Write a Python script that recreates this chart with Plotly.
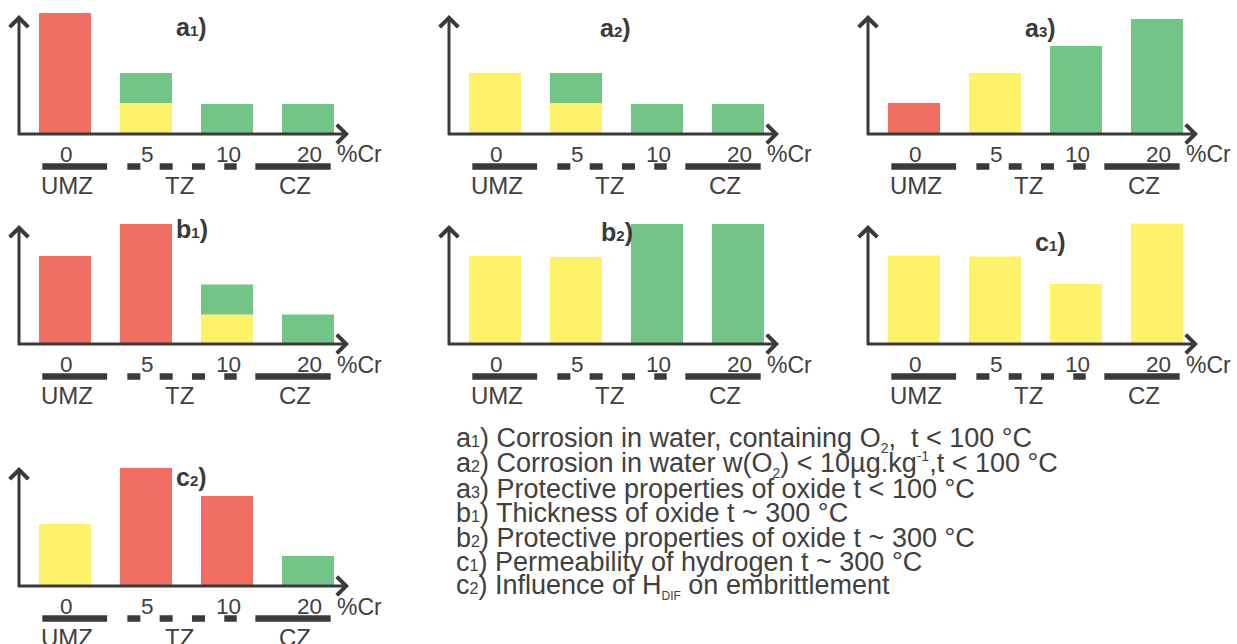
import plotly.graph_objects as go

# ---------------- data ----------------
cr_labels = ["0", "5", "10", "20"]
unit_label = "%Cr"

zone_names = ["UMZ", "TZ", "CZ"]
zone_from = [-0.28, 0.77, 2.35]      # in Cr-category index units
zone_to = [0.52, 2.12, 3.28]
zone_dashed = [False, True, False]

panel_ids = ["a1", "a2", "a3", "b1", "b2", "c1", "c2"]

a1_lower = [4.03, 1.03, 1.00, 1.00]
a1_lower_rating = ["bad", "medium", "good", "good"]
a1_upper = [0, 1.00, 0, 0]
a1_upper_rating = ["", "good", "", ""]

a2_lower = [2.03, 1.03, 1.00, 1.00]
a2_lower_rating = ["medium", "medium", "good", "good"]
a2_upper = [0, 1.00, 0, 0]
a2_upper_rating = ["", "good", "", ""]

a3_lower = [1.03, 2.03, 2.93, 3.83]
a3_lower_rating = ["bad", "medium", "good", "good"]
a3_upper = [0, 0, 0, 0]
a3_upper_rating = ["", "", "", ""]

b1_lower = [2.93, 4.00, 0.98, 0.98]
b1_lower_rating = ["bad", "bad", "medium", "good"]
b1_upper = [0, 0, 1.00, 0]
b1_upper_rating = ["", "", "good", ""]

b2_lower = [2.93, 2.90, 4.00, 4.00]
b2_lower_rating = ["medium", "medium", "good", "good"]
b2_upper = [0, 0, 0, 0]
b2_upper_rating = ["", "", "", ""]

c1_lower = [2.95, 2.92, 2.00, 4.02]
c1_lower_rating = ["medium", "medium", "medium", "medium"]
c1_upper = [0, 0, 0, 0]
c1_upper_rating = ["", "", "", ""]

c2_lower = [2.07, 3.93, 3.00, 1.00]
c2_lower_rating = ["medium", "bad", "bad", "good"]
c2_upper = [0, 0, 0, 0]
c2_upper_rating = ["", "", "", ""]

panel_data = {
    "a1": (a1_lower, a1_lower_rating, a1_upper, a1_upper_rating),
    "a2": (a2_lower, a2_lower_rating, a2_upper, a2_upper_rating),
    "a3": (a3_lower, a3_lower_rating, a3_upper, a3_upper_rating),
    "b1": (b1_lower, b1_lower_rating, b1_upper, b1_upper_rating),
    "b2": (b2_lower, b2_lower_rating, b2_upper, b2_upper_rating),
    "c1": (c1_lower, c1_lower_rating, c1_upper, c1_upper_rating),
    "c2": (c2_lower, c2_lower_rating, c2_upper, c2_upper_rating),
}

SUB = "<sub><span style='font-size:14px'>%s</span></sub>"
SUP = "<sup><span style='font-size:14px'>%s</span></sup>"
legend_texts = [
    "Corrosion in water, containing O" + SUB % "2" + ",\u00a0 t &lt; 100 °C",
    "Corrosion in water w(O" + SUB % "2" + ") &lt; 10µg.kg" + SUP % "-1" + ",t &lt; 100 °C",
    "Protective properties of oxide t &lt; 100 °C",
    "Thickness of oxide t ~ 300 °C",
    "Protective properties of oxide t ~ 300 °C",
    "Permeability of hydrogen t ~ 300 °C",
    "Influence of H" + "<sub><span style='font-size:12px'>DIF</span></sub>" + " on embrittlement",
]

# ---------------- style / layout ----------------
W, H = 1237, 644
FONT = "Liberation Sans, Arial, Helvetica, sans-serif"
INK = "#3a3a3a"
TEXT_INK = "#404040"
COLORS = {"bad": "#F06E62", "medium": "#FFF26B", "good": "#73C487"}

PX_STEP = 81.0     # px between categories
PX_FIRST = 46.0    # px from y-axis line to first bar centre
PX_UNIT = 30.0     # px per value unit
LEFT, RIGHT, TOP, BOTTOM = 19, 366, 133, 58

x_origin = -PX_FIRST / PX_STEP
x_min = (-LEFT - PX_FIRST) / PX_STEP
x_max = (RIGHT - PX_FIRST) / PX_STEP
y_min = -BOTTOM / PX_UNIT
y_max = TOP / PX_UNIT
BAR_W = 52 / PX_STEP
X_TIP = (330 - PX_FIRST) / PX_STEP
Y_TIP = 3.97
TICK_Y = -20.5 / PX_UNIT
ZONE_Y = -32.5 / PX_UNIT
ZONE_LABEL_Y = -51.8 / PX_UNIT
zone_label_shift = [-0.09, -0.03, 0.03]

col_x = [19, 449, 868]
row_y = [134, 344, 586]
panel_pos = {"a1": (0, 0), "a2": (1, 0), "a3": (2, 0),
             "b1": (0, 1), "b2": (1, 1), "c1": (2, 1), "c2": (0, 2)}
title_xy = {"a1": (1.34, 3.58), "a2": (1.27, 3.54), "a3": (1.34, 3.52),
            "b1": (1.35, 3.84), "b2": (1.28, 3.74), "c1": (1.475, 3.41),
            "c2": (1.35, 3.64)}

fig = go.Figure()
annotations = []
layout_axes = {}

for k, pid in enumerate(panel_ids):
    n = k + 1
    suffix = "" if n == 1 else str(n)
    xa, ya = "x" + suffix, "y" + suffix
    col, row = panel_pos[pid]
    ox, oy = col_x[col], row_y[row]
    layout_axes["xaxis" + suffix] = dict(
        domain=[(ox - LEFT) / W, (ox + RIGHT) / W], range=[x_min, x_max],
        visible=False, fixedrange=True, anchor=ya)
    layout_axes["yaxis" + suffix] = dict(
        domain=[max(0, 1 - (oy + BOTTOM) / H), 1 - (oy - TOP) / H],
        range=[y_min, y_max], visible=False, fixedrange=True, anchor=xa)

    lower, lower_r, upper, upper_r = panel_data[pid]
    xs = list(range(len(cr_labels)))
    fig.add_trace(go.Bar(
        x=xs, y=lower, width=BAR_W, xaxis=xa, yaxis=ya,
        marker=dict(color=[COLORS[r] for r in lower_r], line=dict(width=0)),
        hoverinfo="skip"))
    idx = [i for i, v in enumerate(upper) if v > 0]
    if idx:
        fig.add_trace(go.Bar(
            x=[xs[i] for i in idx], y=[upper[i] for i in idx],
            base=[lower[i] for i in idx], width=BAR_W, xaxis=xa, yaxis=ya,
            marker=dict(color=[COLORS[upper_r[i]] for i in idx], line=dict(width=0)),
            hoverinfo="skip"))

    # zone markers
    for zi, (z0, z1, zd) in enumerate(zip(zone_from, zone_to, zone_dashed)):
        fig.add_trace(go.Scatter(
            x=[z0, z1], y=[ZONE_Y, ZONE_Y], mode="lines", xaxis=xa, yaxis=ya,
            line=dict(color=INK, width=6.5, dash="13px,19.3px" if zd else "solid"),
            hoverinfo="skip"))
        annotations.append(dict(
            xref=xa, yref=ya, x=(z0 + z1) / 2 + zone_label_shift[zi], y=ZONE_LABEL_Y,
            text=zone_names[zi], showarrow=False, xanchor="center", yanchor="middle",
            font=dict(family=FONT, size=24, color=TEXT_INK)))

    # axes with arrows
    annotations.append(dict(
        xref=xa, yref=ya, axref=xa, ayref=ya, x=X_TIP, y=0,
        ax=x_origin - 1.5 / PX_STEP, ay=0, text="", showarrow=True,
        arrowhead=4, arrowsize=1.2, arrowwidth=3, arrowcolor=INK,
        font=dict(size=1), borderpad=0, standoff=0, startstandoff=0))
    annotations.append(dict(
        xref=xa, yref=ya, axref=xa, ayref=ya, x=x_origin, y=Y_TIP,
        ax=x_origin, ay=-1.5 / PX_UNIT, text="", showarrow=True,
        arrowhead=4, arrowsize=1.2, arrowwidth=3, arrowcolor=INK,
        font=dict(size=1), borderpad=0, standoff=0, startstandoff=0))

    # category labels
    for i, lab in enumerate(cr_labels):
        annotations.append(dict(
            xref=xa, yref=ya, x=xs[i] + 0.02, y=TICK_Y, text=lab, showarrow=False,
            xanchor="center", yanchor="middle",
            font=dict(family=FONT, size=22.5, color=TEXT_INK)))
    annotations.append(dict(
        xref=xa, yref=ya, x=(316 - PX_FIRST) / PX_STEP, y=TICK_Y, text=unit_label,
        showarrow=False, xanchor="left", yanchor="middle",
        font=dict(family=FONT, size=23, color=TEXT_INK)))

    # panel title
    tx, ty = title_xy[pid]
    annotations.append(dict(
        xref=xa, yref=ya, x=tx, y=ty, showarrow=False, xanchor="left", yanchor="middle",
        text="<b>%s<span style='font-size:15px'>%s</span>)</b>" % (pid[0], pid[1]),
        font=dict(family=FONT, size=25, color=INK)))

# legend of panels
LEG_X, LEG_Y0, LEG_STEP = 454, 439.5, 24.5
for i, (pid, txt) in enumerate(zip(panel_ids, legend_texts)):
    annotations.append(dict(
        xref="paper", yref="paper", x=LEG_X / W, y=1 - (LEG_Y0 + i * LEG_STEP) / H,
        xanchor="left", yanchor="middle", showarrow=False,
        text="%s<span style='font-size:16px'>%s</span>) %s" % (pid[0], pid[1], txt),
        font=dict(family=FONT, size=27, color=TEXT_INK)))

fig.update_layout(
    width=W, height=H, margin=dict(l=0, r=0, t=0, b=0),
    paper_bgcolor="white", plot_bgcolor="rgba(0,0,0,0)",
    showlegend=False, barmode="overlay", annotations=annotations,
    **layout_axes)

fig.write_html("out.html", include_plotlyjs=True,
               config={"displayModeBar": False, "staticPlot": True},
               post_script="document.body.style.margin='0';document.body.style.overflow='hidden';")
